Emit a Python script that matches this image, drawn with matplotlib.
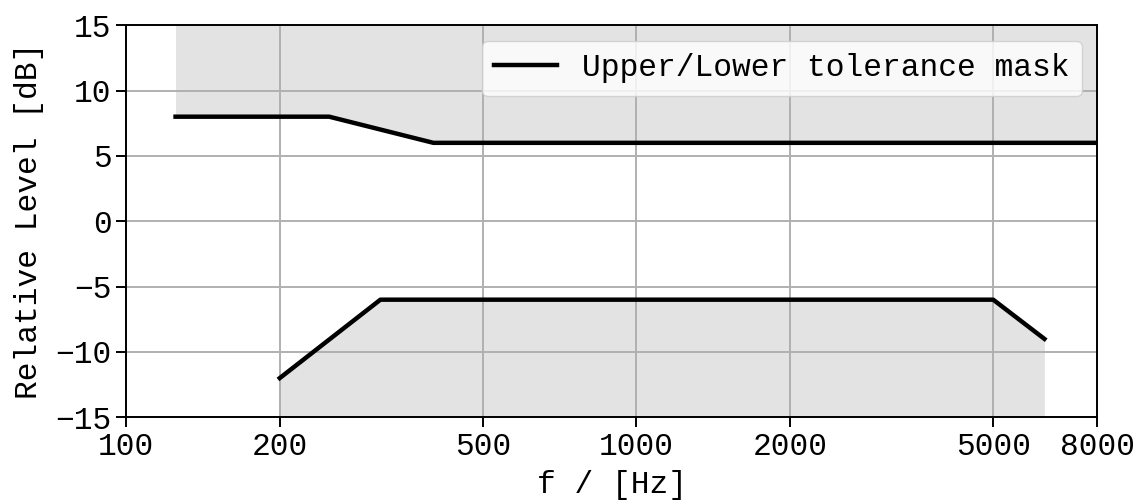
import matplotlib
matplotlib.use("Agg")
import matplotlib.pyplot as plt
from matplotlib.ticker import FixedLocator, FixedFormatter, NullLocator

# masque de tolérance
upper_f = [125, 250, 400, 8000]
upper_db = [8, 8, 6, 6]
lower_f = [200, 315, 5000, 6300]
lower_db = [-12, -6, -6, -9]
xticks = [100, 200, 500, 1000, 2000, 5000, 8000]
yticks = [-15, -10, -5, 0, 5, 10, 15]

plt.rcParams['font.family'] = ['Liberation Mono', 'DejaVu Sans Mono']
plt.rcParams['font.size'] = 22.5
plt.rcParams['axes.linewidth'] = 1.4
plt.rcParams['xtick.major.size'] = 7
plt.rcParams['ytick.major.size'] = 7
plt.rcParams['xtick.major.width'] = 1.4
plt.rcParams['ytick.major.width'] = 1.4

fig, ax = plt.subplots(figsize=(11.36, 5.04), dpi=100)
fig.subplots_adjust(left=0.111, right=0.966, top=0.95, bottom=0.172)

ax.fill_between(upper_f, upper_db, 15, color='#e3e3e3', lw=0, zorder=0.2)
ax.fill_between(lower_f, lower_db, -15, color='#e3e3e3', lw=0, zorder=0.2)
ax.plot(upper_f, upper_db, 'k-', lw=3.2, label='Upper/Lower tolerance mask')
ax.plot(lower_f, lower_db, 'k-', lw=3.2)

ax.set_xscale('log')
ax.set_xlim(100, 8000)
ax.set_ylim(-15, 15)
ax.xaxis.set_major_locator(FixedLocator(xticks))
ax.xaxis.set_major_formatter(FixedFormatter([str(t) for t in xticks]))
ax.xaxis.set_minor_locator(NullLocator())
ax.set_yticks(yticks)
ax.grid(True, color='#b0b0b0', lw=1.4)
ax.set_axisbelow(True)

ax.set_xlabel('f / [Hz]', labelpad=6)
ax.set_ylabel('Relative Level [dB]', labelpad=8)
ax.legend(loc='upper right', borderaxespad=0.5)

plt.savefig('out.png', dpi=100)
